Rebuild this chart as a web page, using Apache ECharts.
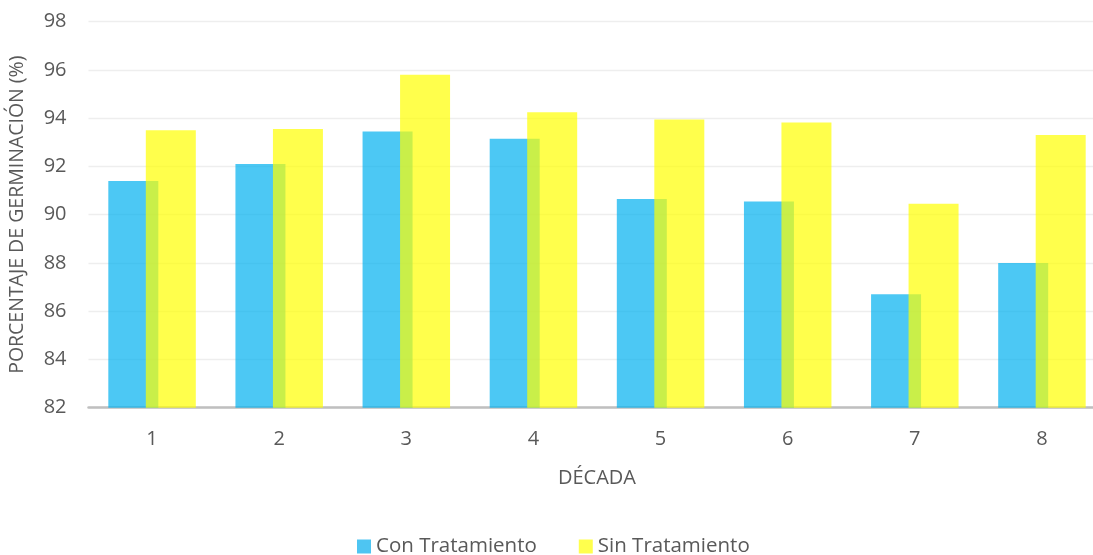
<!DOCTYPE html>
<html>
<head>
<meta charset="utf-8">
<script src="https://cdn.jsdelivr.net/npm/echarts@6/dist/echarts.min.js"></script>
<style>
  html, body { margin: 0; padding: 0; background: #fff; }
  #chart { width: 1093px; height: 555px; }
</style>
</head>
<body>
<div id="chart"></div>
<script>
// Germination percentage per decade, with and without treatment
const decadas = ['1', '2', '3', '4', '5', '6', '7', '8'];
const conTratamiento = [91.4, 92.1, 93.45, 93.15, 90.65, 90.55, 86.7, 88.0];
const sinTratamiento = [93.5, 93.55, 95.8, 94.25, 93.95, 93.82, 90.45, 93.3];
const yTicks = { min: 82, max: 98, interval: 2 };

const font = '"Open Sans", "Noto Sans", sans-serif';
const textColor = '#595959';

const chart = echarts.init(document.getElementById('chart'), null, { renderer: 'canvas' });
chart.setOption({
  animation: false,
  backgroundColor: '#fff',
  grid: { left: 88.5, top: 21.7, width: 1017, height: 386, outerBoundsMode: 'none' },
  legend: {
    top: 531,
    left: 352,
    itemWidth: 14,
    itemHeight: 14,
    itemGap: 42,
    icon: 'rect',
    textStyle: { fontFamily: font, fontSize: 20.5, color: textColor },
    data: [
      { name: 'Con Tratamiento', itemStyle: { color: '#4EC5F2', opacity: 1 } },
      { name: 'Sin Tratamiento', itemStyle: { color: '#FFFF4D', opacity: 1 } }
    ]
  },
  xAxis: {
    type: 'category',
    data: decadas,
    name: 'DÉCADA',
    nameLocation: 'middle',
    nameGap: 61,
    nameTextStyle: { fontFamily: font, fontSize: 20, color: textColor },
    axisLine: { lineStyle: { color: '#BFBFBF', width: 2.5 } },
    axisTick: { show: false },
    axisLabel: { fontFamily: font, fontSize: 20, color: textColor, margin: 22 }
  },
  yAxis: {
    type: 'value',
    min: yTicks.min,
    max: yTicks.max,
    interval: yTicks.interval,
    name: 'PORCENTAJE DE GERMINACIÓN (%)',
    nameLocation: 'middle',
    nameGap: 61,
    nameRotate: 90,
    nameTextStyle: { fontFamily: font, fontSize: 19.5, color: textColor },
    axisLine: { show: false },
    axisTick: { show: false },
    axisLabel: { fontFamily: font, fontSize: 20, color: textColor, margin: 22 },
    splitLine: { lineStyle: { color: '#EEEEEE', width: 1.3 } }
  },
  series: [
    {
      name: 'Con Tratamiento',
      type: 'bar',
      data: conTratamiento,
      barWidth: 50,
      barGap: '-25%',
      itemStyle: { color: '#00B0F0', opacity: 0.7 }
    },
    {
      name: 'Sin Tratamiento',
      type: 'bar',
      data: sinTratamiento,
      barWidth: 50,
      itemStyle: { color: '#FFFF00', opacity: 0.7 }
    }
  ]
});
</script>
</body>
</html>
